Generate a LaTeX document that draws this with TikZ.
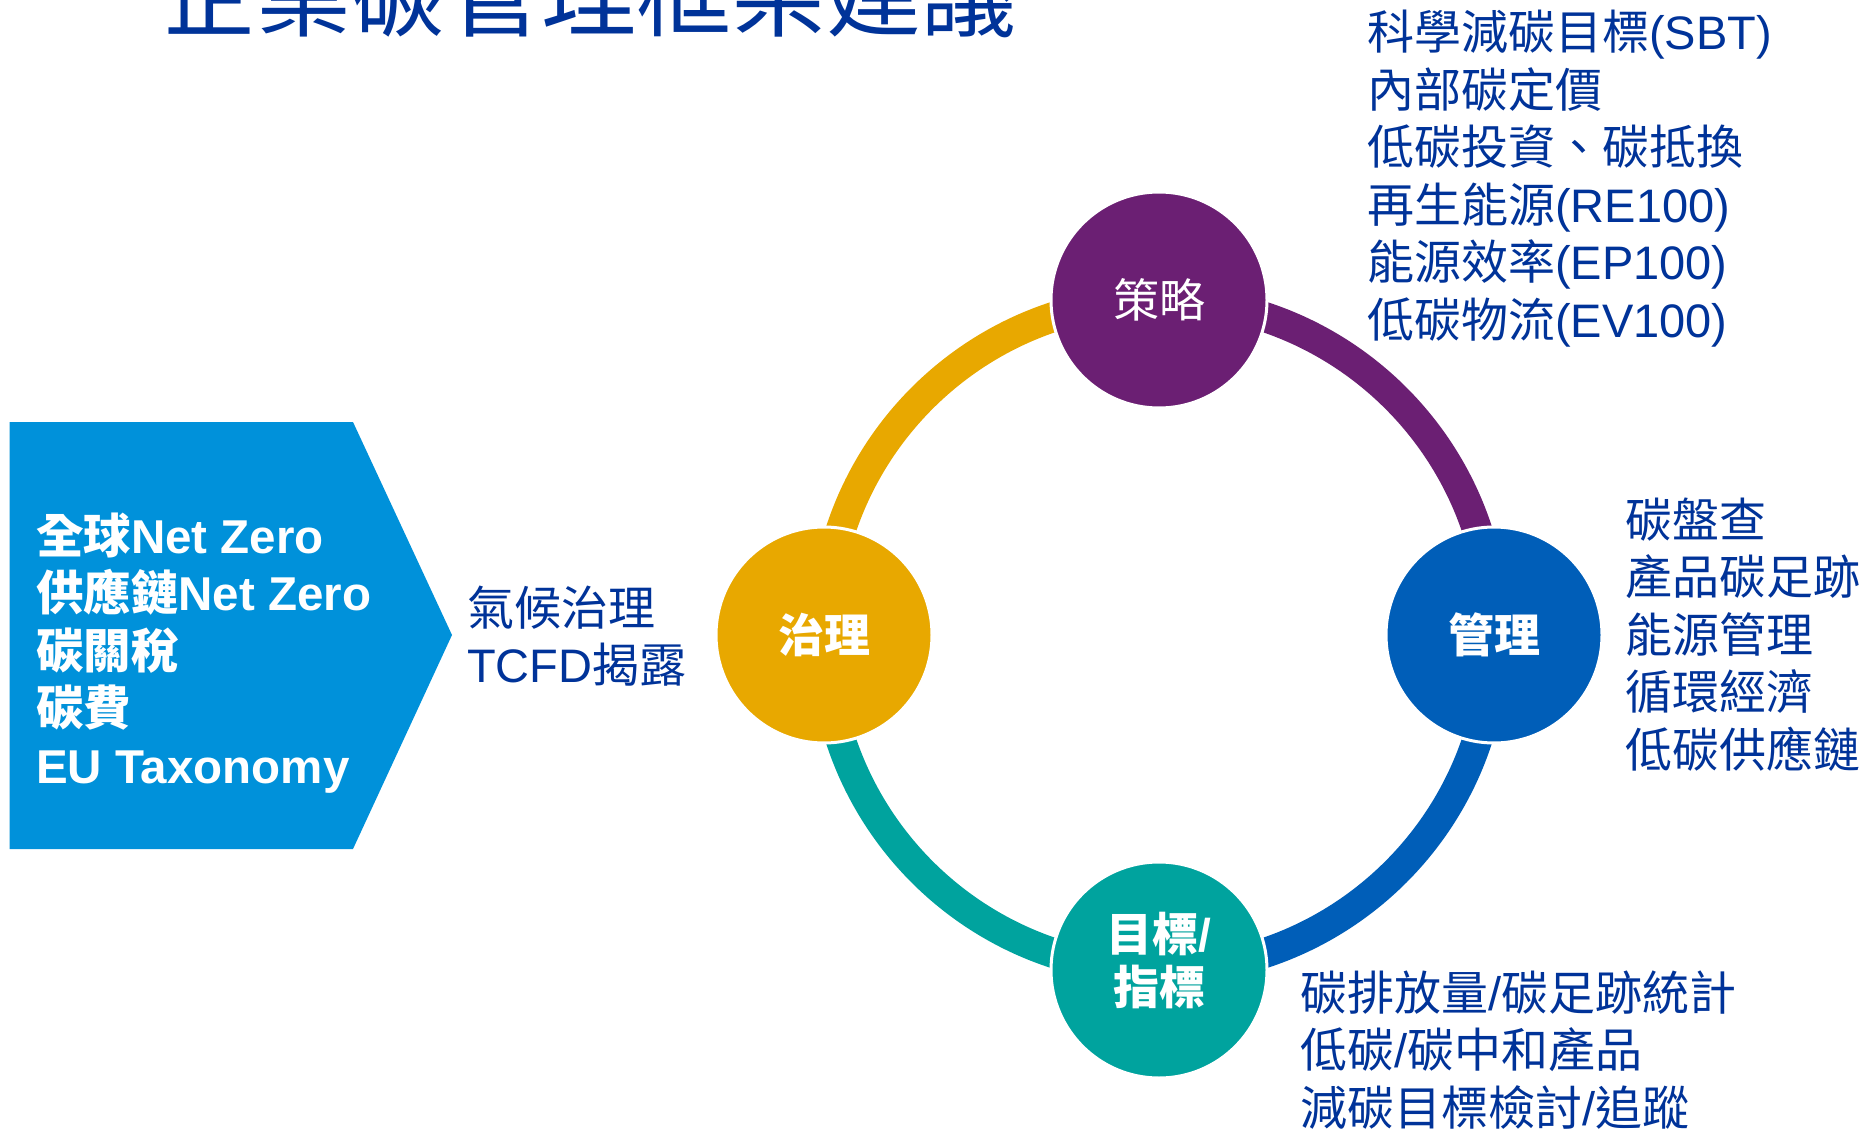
\documentclass[tikz,border=0pt]{standalone}
\usepackage{fontspec}
\setmainfont{Liberation Sans}
\newfontfamily\cjk{Noto Sans CJK TC}
\usetikzlibrary{backgrounds}
\definecolor{cpurple}{RGB}{107,31,115}
\definecolor{cblue}{RGB}{0,94,184}
\definecolor{cteal}{RGB}{0,163,158}
\definecolor{cgold}{RGB}{232,168,0}
\definecolor{cchev}{RGB}{0,145,218}
\definecolor{txtblue}{RGB}{0,51,153}
\tikzset{
  bubble/.style={circle, minimum size=216pt, inner sep=0pt, draw=white, line width=3pt, text=white, align=center},
  bubfont/.style={font=\fontsize{46}{53}\selectfont},
  bubbold/.style={font=\bfseries\fontsize{46}{53}\selectfont},
  ringline/.style={line width=30pt},
  listtext/.style={anchor=west, inner sep=0pt, align=left, text=txtblue, font=\fontsize{47}{57.5}\selectfont},
  chevtext/.style={anchor=west, inner sep=0pt, align=left, text=white, font=\bfseries\fontsize{47.5}{57.5}\selectfont}
}
\begin{document}
\begin{tikzpicture}[x=1pt,y=1pt]
\useasboundingbox (0,0) rectangle (1876,-1131);
\clip (0,0) rectangle (1876,-1131);
% title (cut off at the top)
\node[anchor=base west, inner sep=0pt, text=txtblue, font=\cjk\fontsize{95}{95}\selectfont] (title) at (161,-30) {企業碳管理框架建議};
% chevron
\fill[cchev] (9.6,-422) -- (353,-422) -- (452,-635) -- (353,-849) -- (9.6,-849) -- cycle;
\node[chevtext] (drivers) at (36,-653) {{\cjk 全球}Net Zero\\{\cjk 供應鏈}Net Zero\\{\cjk 碳關稅}\\{\cjk 碳費}\\EU Taxonomy};
% circles
\node[bubble, bubfont, fill=cpurple] (strat) at (1159,-300) {\cjk 策略};
\node[bubble, bubbold, fill=cblue] (mgmt) at (1494,-635) {\cjk 管理};
\node[bubble, fill=cteal] (goal) at (1159,-970) {};
\node[bubbold, text=white, align=center, inner sep=0pt] (goallabel) at ([yshift=9]goal.center) {{\cjk 目標}/\\{\cjk 指標}};
\node[bubble, bubbold, fill=cgold] (gov) at (824,-635) {\cjk 治理};
\begin{scope}[on background layer]
\fill[white] (0,0) rectangle (1876,-1131);
\draw[ringline, cgold] (gov.center) arc[start angle=180, end angle=90, radius=335];
\draw[ringline, cpurple] (strat.center) arc[start angle=90, end angle=0, radius=335];
\draw[ringline, cblue] (mgmt.center) arc[start angle=0, end angle=-90, radius=335];
\draw[ringline, cteal] (goal.center) arc[start angle=-90, end angle=-180, radius=335];
\end{scope}
% text lists
\node[listtext] (govtext) at (467,-636) {{\cjk 氣候治理}\\TCFD{\cjk 揭露}};
\node[listtext] (strattext) at (1367,-178.5) {{\cjk 科學減碳目標}(SBT)\\{\cjk 內部碳定價}\\{\cjk 低碳投資、碳抵換}\\{\cjk 再生能源}(RE100)\\{\cjk 能源效率}(EP100)\\{\cjk 低碳物流}(EV100)};
\node[listtext] (mgmttext) at (1625,-634.5) {{\cjk 碳盤查}\\{\cjk 產品碳足跡}\\{\cjk 能源管理}\\{\cjk 循環經濟}\\{\cjk 低碳供應鏈}};
\node[listtext] (goaltext) at (1300,-1050) {{\cjk 碳排放量}/{\cjk 碳足跡統計}\\{\cjk 低碳}/{\cjk 碳中和產品}\\{\cjk 減碳目標檢討}/{\cjk 追蹤}};
\end{tikzpicture}
\end{document}
